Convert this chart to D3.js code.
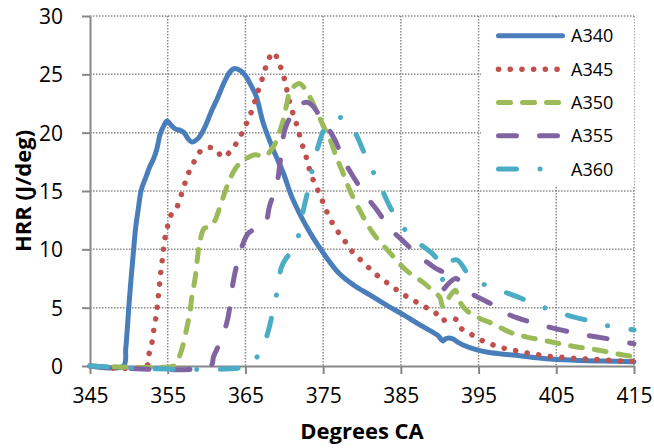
<!DOCTYPE html>
<html><head><meta charset="utf-8">
<script src="https://cdn.jsdelivr.net/npm/d3@7"></script>
<style>body{margin:0;background:#fff} svg{display:block;font-family:'Open Sans',sans-serif}</style>
</head><body><svg id="c" width="654" height="448"></svg>
<script>
const xTicks = [345,355,365,375,385,395,405,415];
const yTicks = [0,5,10,15,20,25,30];
const seriesNames = ["A340","A345","A350","A355","A360"];
const seriesColors = ["#4a7ebb","#c0504d","#9bbb59","#8064a2","#4bacc6"];

const a340Deg = [345,349.3,349.6,349.8,350.0,350.3,350.6,350.9,351.2,351.6,352.2,352.7,353.2,353.6,354.0,354.5,354.9,355.5,356.0,356.6,357.1,357.6,358.1,358.9,359.5,360.0,360.6,361.3,362.4,363.0,363.6,364.4,365.1,365.6,366.4,367.3,368.6,369.9,370.9,372.4,373.7,375.0,377.1,379.0,381.0,383.2,385.3,387.5,389.1,389.8,390.4,390.8,391.6,392.3,393.0,394.7,396.0,397.7,400.3,402.5,404.6,408.0,411.0,415.0];
const a340Hrr = [0,0,1.5,3.2,5.1,7.6,9.9,12.0,13.4,15.1,16.2,17.1,17.8,18.6,19.8,20.6,21.0,20.6,20.3,20.2,20.0,19.5,19.2,19.5,20.1,20.8,21.8,22.8,24.5,25.2,25.5,25.3,24.8,24.2,23.1,20.8,18.5,16.5,14.6,12.5,11.0,9.7,7.9,6.9,6.1,5.2,4.4,3.5,2.9,2.6,2.15,2.35,2.35,2.05,1.8,1.4,1.2,1.05,0.88,0.7,0.57,0.47,0.42,0.37];

const a345Deg = [345,352.3,352.5,352.9,353.1,353.4,353.6,353.75,353.9,354.05,354.25,354.4,354.6,354.9,355.3,356.1,356.6,357.1,357.5,358.2,358.8,359.9,361.1,362.1,363.3,364.1,364.8,365.4,366.0,366.4,366.9,367.4,367.8,368.6,369.3,369.8,370.2,370.5,370.9,371.4,371.8,372.2,372.7,373.1,373.5,374.1,374.7,375.3,375.9,376.7,377.6,378.5,379.5,380.6,381.7,382.9,384.1,385.4,386.7,388.0,389.4,390.2,390.9,392.1,392.8,394.1,395.4,396.9,398.4,399.9,401.4,402.9,404.4,405.9,407.4,409.0,410.5,412.0,413.4,415.0];
const a345Hrr = [0,0,0.8,1.7,2.7,3.8,4.8,5.7,6.7,7.7,8.8,9.7,10.8,11.7,12.8,13.5,14.4,15.4,16.3,17.2,18.1,18.7,18.6,17.9,18.6,19.4,20.3,21.2,22.2,23.1,24.1,25.1,26.0,26.9,26.0,25.1,24.1,23.1,22.1,21.1,20.2,19.2,18.2,17.2,16.3,15.4,14.5,13.5,12.6,11.7,10.9,10.0,9.3,8.6,7.9,7.3,6.7,6.1,5.6,5.1,4.6,3.9,4.0,4.0,3.2,2.7,2.2,1.8,1.5,1.3,1.1,0.94,0.8,0.74,0.66,0.6,0.54,0.49,0.43,0.4];

const a350Deg = [345,355.8,356.1,356.8,357.5,357.9,358.1,358.5,358.8,359.1,359.7,360.4,361.1,361.7,362.8,363.6,364.3,364.9,366.2,367.5,368.6,369.7,370.3,370.7,371.3,372.0,372.9,374.2,375.0,375.9,376.7,377.4,378.4,379.9,381.4,383.6,385.7,388.0,389.0,390.0,390.4,391.0,392.0,392.5,393.4,395.1,396.9,399.0,401.1,404.1,407.1,410.1,413.6,415.0];
const a350Hrr = [0,0,0.2,1.4,3.4,4.8,5.9,7.4,9.1,10.5,11.8,11.9,12.5,13.6,15.7,16.8,17.4,17.7,18.1,18.0,18.8,20.7,22.4,23.5,24.0,24.2,23.5,21.8,20.6,19.4,17.9,16.8,15.1,13.1,11.4,9.7,8.2,7.1,6.5,5.9,5.1,5.7,6.5,5.6,4.8,4.1,3.6,2.9,2.5,2.1,1.7,1.4,0.94,0.8];

const a355Deg = [345,360.5,360.9,361.5,362.6,363.0,363.4,363.9,364.7,365.4,366.5,367.5,368.1,369.0,369.4,369.8,370.3,371.4,372.3,372.9,373.5,374.3,375.2,376.5,377.6,378.9,380.6,381.9,383.6,385.3,387.4,389.4,390.6,390.3,391.2,392.1,393.6,396.4,398.6,402.0,407.6,411.9,415.0];
const a355Hrr = [0,0,0.8,1.7,3.7,5.1,7.1,8.7,10.5,11.4,11.8,12.1,13.7,15.5,17.1,19.4,20.7,21.9,22.5,22.6,22.4,21.7,20.8,19.4,17.7,16.2,14.5,13.4,11.8,10.7,9.4,8.4,7.9,6.5,7.1,7.5,6.4,5.4,4.5,3.7,2.8,2.3,1.9];

const a360Deg = [345,365.5,366.3,367.1,367.9,368.6,369.2,369.6,370.3,371.0,371.6,372.0,372.4,373.1,373.7,374.3,375.3,376.2,377.2,378.0,379.1,380.2,381.4,382.5,383.8,385.5,387.0,389.4,390.0,390.4,391.0,392.2,393.9,396.0,398.9,401.6,403.9,406.7,409.7,411.9,415.0];
const a360Hrr = [0,0,0.6,1.4,2.9,4.9,6.8,8.4,9.3,9.8,10.6,11.7,13.2,15.2,17.1,18.7,20.5,21.0,21.3,20.9,20.0,18.4,16.7,15.2,13.4,11.7,10.7,9.4,8.6,7.4,8.7,9.1,7.7,6.9,6.2,5.5,4.9,4.3,3.8,3.4,3.1];

const seriesDeg = [a340Deg,a345Deg,a350Deg,a355Deg,a360Deg];
const seriesHrr = [a340Hrr,a345Hrr,a350Hrr,a355Hrr,a360Hrr];
const dashes = [null,"0.1 11.6","12 12","18 23","18 23.5 0.1 23.5"];
const widths = [5,5.5,5,5,5];

const svg = d3.select("#c");
const L=90, R=634, T=16, B=366;
const x = d3.scaleLinear().domain([345,415]).range([L,R]);
const y = d3.scaleLinear().domain([0,30]).range([B,T]);
const grid = "#8a8a8a";

// gridlines
const g = svg.append("g");
g.selectAll("line.h").data(yTicks.filter(v=>v>0)).enter().append("line")
  .attr("x1",L).attr("x2",R).attr("y1",d=>y(d)).attr("y2",d=>y(d))
  .attr("stroke",grid).attr("stroke-width",1.5).attr("stroke-dasharray","1.5 1.5");
g.selectAll("line.v").data(xTicks.filter(v=>v>345)).enter().append("line")
  .attr("y1",T).attr("y2",B).attr("x1",d=>x(d)).attr("x2",d=>x(d))
  .attr("stroke",grid).attr("stroke-width",1.5).attr("stroke-dasharray","1.5 1.5");

// axes
const xAxis = svg.append("g").attr("transform",`translate(0,${B})`)
  .call(d3.axisBottom(x).tickValues(xTicks).tickSize(8).tickPadding(14).tickSizeOuter(0));
const yAxis = svg.append("g").attr("transform",`translate(${L},0)`)
  .call(d3.axisLeft(y).tickValues(yTicks).tickSize(8).tickPadding(19).tickSizeOuter(0));
[xAxis,yAxis].forEach(a=>{
  a.selectAll("path,line").attr("stroke","#878787").attr("stroke-width",2);
  a.selectAll("text").attr("fill","#000").style("font-size","21px").style("font-family","'Open Sans',sans-serif");
});
yAxis.selectAll("text").attr("dy","0.36em");

// series
const line = d3.line().curve(d3.curveCatmullRom.alpha(0.5));
seriesNames.forEach((n,i)=>{
  const pts = seriesDeg[i].map((d,j)=>[x(d), y(seriesHrr[i][j])]);
  const p = svg.append("path").attr("d",line(pts)).attr("fill","none")
    .attr("stroke",seriesColors[i]).attr("stroke-width",widths[i])
    .attr("stroke-linecap","round").attr("stroke-linejoin","round");
  if (dashes[i]) p.attr("stroke-dasharray",dashes[i]);
});

// legend
svg.append("rect").attr("x",481).attr("y",18).attr("width",153).attr("height",169).attr("fill","#fff");
const legY = [35.7,69.3,102.5,135.7,169];
seriesNames.forEach((n,i)=>{
  const p = svg.append("line").attr("x1",498.5).attr("x2",562.5).attr("y1",legY[i]).attr("y2",legY[i])
    .attr("stroke",seriesColors[i]).attr("stroke-width",widths[i]).attr("stroke-linecap","round");
  if (dashes[i]) p.attr("stroke-dasharray",dashes[i]);
  svg.append("text").attr("x",571).attr("y",legY[i]+6.5).text(n)
    .style("font-size","18px").attr("fill","#000");
});

// titles
svg.append("text").attr("x",(L+R)/2).attr("y",439).attr("text-anchor","middle")
  .style("font-size","22px").style("font-weight","bold").text("Degrees CA");
svg.append("text").attr("transform",`translate(31,${(T+B)/2}) rotate(-90)`).attr("text-anchor","middle")
  .style("font-size","22px").style("font-weight","bold").text("HRR (J/deg)");
</script>
</body></html>
